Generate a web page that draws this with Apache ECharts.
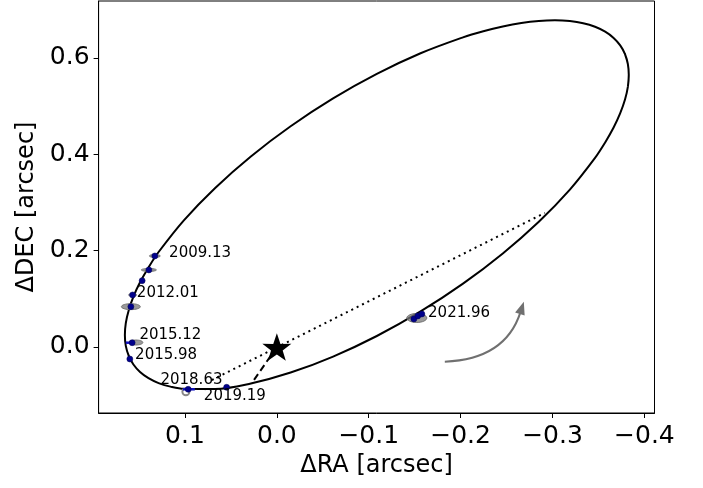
<!DOCTYPE html>
<html>
<head>
<meta charset="utf-8">
<script src="https://cdn.jsdelivr.net/npm/echarts@6/dist/echarts.min.js"></script>
<style>html,body{margin:0;padding:0;background:#fff}#c{width:703px;height:488px}</style>
</head>
<body>
<div id="c"></div>
<script>
// Orbit path, arcsec; first/last points overlap to close the loop smoothly
const orbitRA  = [-0.3789,-0.3820,-0.3830,-0.3820,-0.3789,-0.3737,-0.3665,-0.3573,-0.3463,-0.3189,-0.2851,-0.2459,-0.2026,-0.1564,-0.1088,-0.0612,-0.0150,0.0283,0.0674,0.1012,0.1158,0.1287,0.1397,0.1489,0.1561,0.1612,0.1644,0.1654,0.1644,0.1612,0.1561,0.1489,0.1397,0.1287,0.1012,0.0674,0.0283,-0.0150,-0.0612,-0.1088,-0.1564,-0.2026,-0.2247,-0.2459,-0.2661,-0.2851,-0.3027,-0.3189,-0.3334,-0.3463,-0.3573,-0.3665,-0.3737,-0.3789,-0.3820,-0.3830,-0.3820];
const orbitDEC = [0.6078,0.5873,0.5647,0.5399,0.5134,0.4851,0.4554,0.4245,0.3925,0.3267,0.2600,0.1942,0.1315,0.0738,0.0228,-0.0199,-0.0531,-0.0757,-0.0870,-0.0868,-0.0823,-0.0749,-0.0647,-0.0518,-0.0363,-0.0182,0.0022,0.0249,0.0496,0.0762,0.1045,0.1342,0.1651,0.1971,0.2629,0.3296,0.3954,0.4580,0.5158,0.5667,0.6095,0.6426,0.6553,0.6652,0.6724,0.6766,0.6779,0.6763,0.6719,0.6645,0.6543,0.6414,0.6259,0.6078,0.5873,0.5647,0.5399];

// Observed astrometry
const obsRA    = [0.1328,0.1393,0.1466,0.1570,0.1589,0.1575,0.1600,0.0965,0.0547,-0.1491,-0.1534,-0.1578];
const obsDEC   = [0.1889,0.1599,0.1376,0.1080,0.0837,0.0089,-0.0249,-0.0878,-0.0837,0.0581,0.0644,0.0685];
const obsLabel = ['2009.13','','','2012.01','','2015.12','2015.98','2018.63','2019.19','','2021.96',''];

// Gray uncertainty ellipses: center and half-widths (arcsec)
const errRA   = [0.1328,0.1393,0.1570,0.1589,0.1534,-0.1523];
const errDEC  = [0.1889,0.1599,0.1080,0.0837,0.0093,0.0602];
const errSigRA  = [0.0060,0.0082,0.0044,0.0103,0.0076,0.0109];
const errSigDEC = [0.0031,0.0031,0.0031,0.0062,0.0052,0.0093];

// Blue error bars (center, half-width in RA)
const barRA  = [0.1600,0.0958];
const barDEC = [0.0089,-0.0878];
const barSig = [0.0044,0.0065];

// Predicted position marker (open gray circle)
const predRA = [0.0990];
const predDEC = [-0.0928];

// Line of nodes (dotted) and periastron (dashed)
const nodeRA = [0.0707,-0.2916];
const nodeDEC = [-0.0685,0.2782];
const periRA = [0.0,0.0272];
const periDEC = [0.0,-0.0747];

// Direction-of-motion arrow endpoints
const arrowRA = [-0.1828,-0.2688];
const arrowDEC = [-0.0305,0.0940];

// Axis ticks
const xTicks = [0.1,0.0,-0.1,-0.2,-0.3,-0.4];
const yTicks = [0.0,0.2,0.4,0.6];

const labelOffsets = {
  '2009.13':[6,-3],'2012.01':[-4,-2],'2015.12':[-1,-8],'2015.98':[-3,-4],
  '2018.63':[-36,-9],'2019.19':[-31,9],'2021.96':[2,-3]
};

const FONT = 'DejaVu Sans';
const fmt = v => (v < -1e-9 ? '\u2212' : '') + Math.abs(v).toFixed(1);
const zip = (a,b) => a.map((v,i)=>[v,b[i]]);

const chart = echarts.init(document.getElementById('c'), null, {renderer:'canvas'});
const starPath = 'path://M50,0 L61.8,35.1 L97.6,34.5 L69.1,56.9 L79.4,90.5 L50,70 L20.6,90.5 L30.9,56.9 L2.4,34.5 L38.2,35.1 Z';

chart.setOption({
  animation:false,
  backgroundColor:'#fff',
  grid:{left:98.6,right:48.5,top:1,bottom:75,show:true,borderColor:'#000',borderWidth:1,containLabel:false},
  xAxis:{
    type:'value',inverse:true,min:-0.411,max:0.194,
    name:'\u0394RA [arcsec]',nameLocation:'middle',nameGap:41,
    nameTextStyle:{fontFamily:FONT,fontSize:24,color:'#000'},
    axisLine:{show:true,onZero:false,lineStyle:{color:'#000',width:1}},
    axisTick:{show:true,length:5,lineStyle:{color:'#000'},customValues:xTicks},
    axisLabel:{show:true,margin:11,fontFamily:FONT,fontSize:25,color:'#000',formatter:fmt,customValues:xTicks},
    splitLine:{show:false}
  },
  yAxis:{
    type:'value',min:-0.137,max:0.718,
    name:'\u0394DEC [arcsec]',nameLocation:'middle',nameGap:58,nameRotate:90,
    nameTextStyle:{fontFamily:FONT,fontSize:24,color:'#000'},
    axisLine:{show:true,onZero:false,lineStyle:{color:'#000',width:1}},
    axisTick:{show:true,length:5,lineStyle:{color:'#000'},customValues:yTicks},
    axisLabel:{show:true,margin:9,fontFamily:FONT,fontSize:25,color:'#000',formatter:fmt,customValues:yTicks},
    splitLine:{show:false}
  },
  series:[
    {
      type:'line',name:'orbit',data:zip(orbitRA,orbitDEC),smooth:0.35,showSymbol:false,
      lineStyle:{color:'#000',width:2},z:2,silent:true
    },
    {
      type:'line',name:'nodes',data:zip(nodeRA,nodeDEC),showSymbol:false,
      lineStyle:{color:'#000',width:2,type:[2,4]},z:2
    },
    {
      type:'line',name:'peri',data:zip(periRA,periDEC),showSymbol:false,
      lineStyle:{color:'#000',width:2,type:[7,4]},z:2
    },
    {
      type:'custom',name:'err',z:3,
      data:errRA.map((v,i)=>[v,errDEC[i],errSigRA[i],errSigDEC[i]]),
      renderItem:(params,api)=>{
        const c = api.coord([api.value(0),api.value(1)]);
        const s = api.size([api.value(2),api.value(3)]);
        return {type:'ellipse',shape:{cx:c[0],cy:c[1],rx:Math.abs(s[0]),ry:Math.abs(s[1])},
          style:{fill:'rgba(120,120,120,0.75)',stroke:'rgba(110,110,110,0.9)',lineWidth:1}};
      }
    },
    {
      type:'scatter',name:'pred',data:zip(predRA,predDEC),symbol:'emptyCircle',symbolSize:7,
      itemStyle:{color:'#888',borderColor:'#888',borderWidth:2,opacity:1},z:4
    },
    {
      type:'custom',name:'bars',z:5,
      data:barRA.map((v,i)=>[v,barDEC[i],barSig[i]]),
      renderItem:(params,api)=>{
        const a = api.coord([api.value(0)-api.value(2),api.value(1)]);
        const b = api.coord([api.value(0)+api.value(2),api.value(1)]);
        return {type:'line',shape:{x1:a[0],y1:a[1],x2:b[0],y2:b[1]},style:{stroke:'#1010c0',lineWidth:2.5}};
      }
    },
    {
      type:'scatter',name:'obs',z:6,symbol:'circle',symbolSize:6,
      itemStyle:{color:'#00008b',borderColor:'#000050',borderWidth:0.5,opacity:1},
      data:obsRA.map((v,i)=>{
        const d = {value:[v,obsDEC[i]]};
        const t = obsLabel[i];
        if(t){
          d.label = {show:true,position:'right',formatter:t,offset:labelOffsets[t],
            fontFamily:FONT,fontSize:15,color:'#000'};
        }
        return d;
      })
    },
    {
      type:'scatter',name:'star',z:7,data:[[0,0]],symbol:starPath,symbolSize:29,symbolKeepAspect:true,
      itemStyle:{color:'#000',opacity:1}
    },
    {
      type:'custom',name:'arrow',z:4,clip:false,
      data:[[arrowRA[0],arrowDEC[0],arrowRA[1],arrowDEC[1]]],
      renderItem:(params,api)=>{
        const p1 = api.coord([api.value(0),api.value(1)]);
        const p2 = api.coord([api.value(2),api.value(3)]);
        const k = -0.35;
        const cp = [(p1[0]+p2[0])/2 - (p1[1]-p2[1])*k, (p1[1]+p2[1])/2 - (p2[0]-p1[0])*k];
        let dx = p2[0]-cp[0], dy = p2[1]-cp[1];
        const L = Math.hypot(dx,dy); dx/=L; dy/=L;
        const hl = 13, hw = 5;
        const base = [p2[0]-dx*hl, p2[1]-dy*hl];
        const nx = -dy, ny = dx;
        return {type:'group',children:[
          {type:'bezierCurve',shape:{x1:p1[0],y1:p1[1],cpx1:cp[0],cpy1:cp[1],x2:base[0]+dx*2,y2:base[1]+dy*2},
            style:{stroke:'#707070',lineWidth:2,fill:null}},
          {type:'polygon',shape:{points:[p2,[base[0]+nx*hw,base[1]+ny*hw],[base[0]-nx*hw,base[1]-ny*hw]]},
            style:{fill:'#707070'}}
        ]};
      }
    }
  ]
});
</script>
</body>
</html>
